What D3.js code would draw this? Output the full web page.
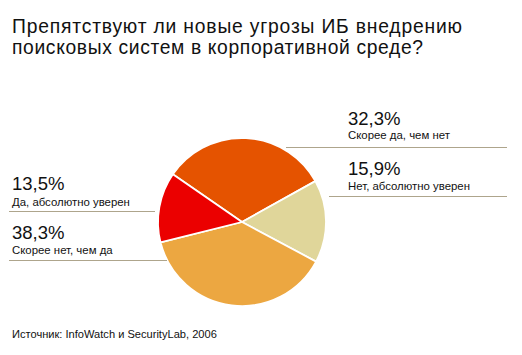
<!DOCTYPE html>
<html><head><meta charset="utf-8">
<script src="https://cdn.jsdelivr.net/npm/d3@7"></script>
<style>body{margin:0;background:#fff}svg{display:block}text{font-family:"Liberation Sans",Arial,Helvetica,sans-serif;fill:#111}</style>
</head><body>
<script>
const titleLines = ["Препятствуют ли новые угрозы ИБ внедрению", "поисковых систем в корпоративной среде?"];
const categories = ["Скорее да, чем нет", "Нет, абсолютно уверен", "Скорее нет, чем да", "Да, абсолютно уверен"];
const values = [32.3, 15.9, 38.3, 13.5];
const valueLabels = ["32,3%", "15,9%", "38,3%", "13,5%"];
const colors = ["#e55300", "#e0d69a", "#eca741", "#eb0000"];
const source = "Источник: InfoWatch и SecurityLab, 2006";

const W = 522, H = 355;
const svg = d3.select("body").append("svg").attr("width", W).attr("height", H);

const titleWidths = [450, 411];
svg.selectAll("text.title").data(titleLines).join("text").attr("class", "title")
  .attr("x", 12).attr("y", (d, i) => 33.2 + i * 20.6).style("font-size", "19.3px")
  .attr("textLength", (d, i) => titleWidths[i]).attr("lengthAdjust", "spacing")
  .text(d => d);

const cx = 242, cy = 222, r = 84;
const start = -55.4 * Math.PI / 180;
const pie = d3.pie().sort(null).value(d => d).startAngle(start).endAngle(start + 2 * Math.PI);
const arc = d3.arc().innerRadius(0).outerRadius(r);
svg.append("g").attr("transform", `translate(${cx},${cy})`)
  .selectAll("path").data(pie(values)).join("path")
  .attr("d", arc).attr("fill", (d, i) => colors[i])
  .attr("stroke", "#fff").attr("stroke-width", 1.8).attr("stroke-linejoin", "round");

// label layout: [x, valueBaseline, nameBaseline, lineY, lineX1, lineX2]
const layout = [
  [348, 125, 139, 147.5, 286, 507],
  [348, 175, 189.5, 196.5, 329, 507],
  [12, 239, 253.5, 260.5, 9, 167],
  [12, 190, 205.5, 211.5, 9, 155]
];
layout.forEach((L, i) => {
  svg.append("text").attr("x", L[0]).attr("y", L[1]).style("font-size", "18.5px").text(valueLabels[i]);
  svg.append("text").attr("x", L[0]).attr("y", L[2]).style("font-size", "11.4px").text(categories[i]);
  svg.append("line").attr("x1", L[4]).attr("x2", L[5]).attr("y1", L[3]).attr("y2", L[3])
    .attr("stroke", "#aea58c").attr("stroke-width", 1);
});

svg.append("text").attr("x", 12).attr("y", 338).style("font-size", "11.1px").text(source);
</script>
</body></html>
